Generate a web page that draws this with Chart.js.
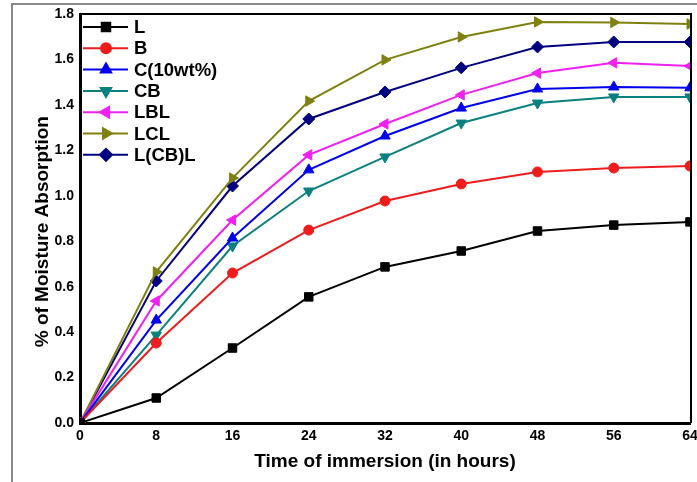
<!DOCTYPE html>
<html>
<head>
<meta charset="utf-8">
<script src="https://cdn.jsdelivr.net/npm/chart.js@4/dist/chart.umd.min.js"></script>
<style>
  body { margin: 0; background: #fff; }
  #wrap { width: 697px; height: 482px; }
</style>
</head>
<body>
<div id="wrap"><canvas id="myChart" width="697" height="482"></canvas></div>
<script>
// hours of immersion
const hours = [0, 8, 16, 24, 32, 40, 48, 56, 64];

// % moisture absorption
const seriesL = [0, 0.11, 0.33, 0.555, 0.687, 0.757, 0.845, 0.871, 0.885];
const seriesB = [0, 0.352, 0.66, 0.849, 0.977, 1.052, 1.105, 1.122, 1.131];
const seriesC = [0, 0.453, 0.814, 1.114, 1.263, 1.386, 1.47, 1.479, 1.475];
const seriesCB = [0, 0.387, 0.779, 1.021, 1.171, 1.32, 1.408, 1.435, 1.435];
const seriesLBL = [0, 0.537, 0.893, 1.18, 1.316, 1.444, 1.54, 1.585, 1.571];
const seriesLCL = [0, 0.665, 1.078, 1.417, 1.598, 1.699, 1.765, 1.763, 1.756];
const seriesLCBL = [0, 0.625, 1.043, 1.338, 1.457, 1.563, 1.655, 1.677, 1.677];

const seriesNames = ["L", "B", "C(10wt%)", "CB", "LBL", "LCL", "L(CB)L"];

Chart.defaults.font.family = "'Liberation Sans', Arial, sans-serif";
Chart.defaults.color = "#000";

function makeSet(name, values, color, style, rot, radius) {
    return {
        label: name,
        data: hours.map((h, i) => ({ x: h, y: values[i] })),
        borderColor: color,
        backgroundColor: color,
        borderWidth: 2,
        pointStyle: style,
        rotation: rot,
        pointRadius: radius,
        pointBorderWidth: 1,
        tension: 0,
    };
}

// grey frame around the figure + box around the plot
const framePlugin = {
    id: "frame",
    beforeDraw(chart) {
        const ctx = chart.ctx;
        ctx.save();
        ctx.strokeStyle = "#8a8a8a";
        ctx.lineWidth = 2;
        ctx.strokeRect(12, 4, 720, 520);
        ctx.restore();
    },
    afterDraw(chart) {
        const ctx = chart.ctx;
        const a = chart.chartArea;
        ctx.save();
        ctx.strokeStyle = "#000";
        ctx.lineWidth = 2;
        ctx.beginPath();
        ctx.moveTo(a.left, a.top);
        ctx.lineTo(a.right + 1, a.top);
        ctx.lineTo(a.right + 1, a.bottom);
        ctx.stroke();
        ctx.restore();
    },
};

// legend drawn inside the plot, line with marker in the middle
const insideLegend = {
    id: "insideLegend",
    afterDraw(chart) {
        const ctx = chart.ctx;
        ctx.save();
        chart.data.datasets.forEach((ds, i) => {
            const y = 27 + i * 21.3;
            ctx.strokeStyle = ds.borderColor;
            ctx.lineWidth = 2;
            ctx.beginPath();
            ctx.moveTo(83, y);
            ctx.lineTo(128, y);
            ctx.stroke();
            ctx.fillStyle = ds.backgroundColor;
            Chart.helpers.drawPoint(ctx, {
                pointStyle: ds.pointStyle,
                rotation: ds.rotation,
                radius: ds.pointRadius,
                borderWidth: 1,
            }, 106, y);
            ctx.fillStyle = "#000";
            ctx.font = "bold 18.5px 'Liberation Sans', Arial, sans-serif";
            ctx.textBaseline = "middle";
            ctx.fillText(ds.label, 134, y + 1);
        });
        ctx.restore();
    },
};

new Chart(document.getElementById("myChart"), {
    type: "line",
    data: {
        datasets: [
            makeSet(seriesNames[0], seriesL, "#000000", "rect", 0, 6),
            makeSet(seriesNames[1], seriesB, "#ee1c1c", "circle", 0, 5),
            makeSet(seriesNames[2], seriesC, "#0000ee", "triangle", 0, 6),
            makeSet(seriesNames[3], seriesCB, "#0b8080", "triangle", 180, 6),
            makeSet(seriesNames[4], seriesLBL, "#f020f0", "triangle", -90, 6),
            makeSet(seriesNames[5], seriesLCL, "#808010", "triangle", 90, 6),
            makeSet(seriesNames[6], seriesLCBL, "#000080", "rectRot", 0, 6),
        ],
    },
    options: {
        responsive: false,
        animation: false,
        layout: { padding: { left: 0, top: 14, right: -2, bottom: 0 } },
        plugins: {
            legend: { display: false },
            tooltip: { enabled: false },
        },
        scales: {
            x: {
                type: "linear",
                min: 0,
                max: 64,
                grid: { display: false, drawTicks: false },
                border: { display: true, color: "#000", width: 3 },
                ticks: {
                    stepSize: 8,
                    padding: 5,
                    maxRotation: 0,
                    font: { size: 14, weight: "bold" },
                },
                title: {
                    display: true,
                    text: "Time of immersion (in hours)",
                    font: { size: 19, weight: "bold" },
                    padding: { top: 0, bottom: 9 },
                },
                afterFit(scale) {
                    scale.height = 59;
                    scale.paddingLeft = 0;
                    scale.paddingRight = 0;
                },
            },
            y: {
                min: 0,
                max: 1.8,
                grid: { display: false, drawTicks: false },
                border: { display: true, color: "#000", width: 3 },
                ticks: {
                    stepSize: 0.2,
                    padding: 6,
                    font: { size: 14, weight: "bold" },
                    callback: (v) => v.toFixed(1),
                },
                title: {
                    display: true,
                    // trailing spaces push the text a little lower, as in the figure
                    text: "% of Moisture Absorption     ",
                    font: { size: 19, weight: "bold" },
                    padding: { top: 31, bottom: 0 },
                },
                afterFit(scale) {
                    scale.width = 80;
                    scale.paddingTop = 0;
                    scale.paddingBottom = 0;
                },
            },
        },
    },
    plugins: [framePlugin, insideLegend],
});
</script>
</body>
</html>
